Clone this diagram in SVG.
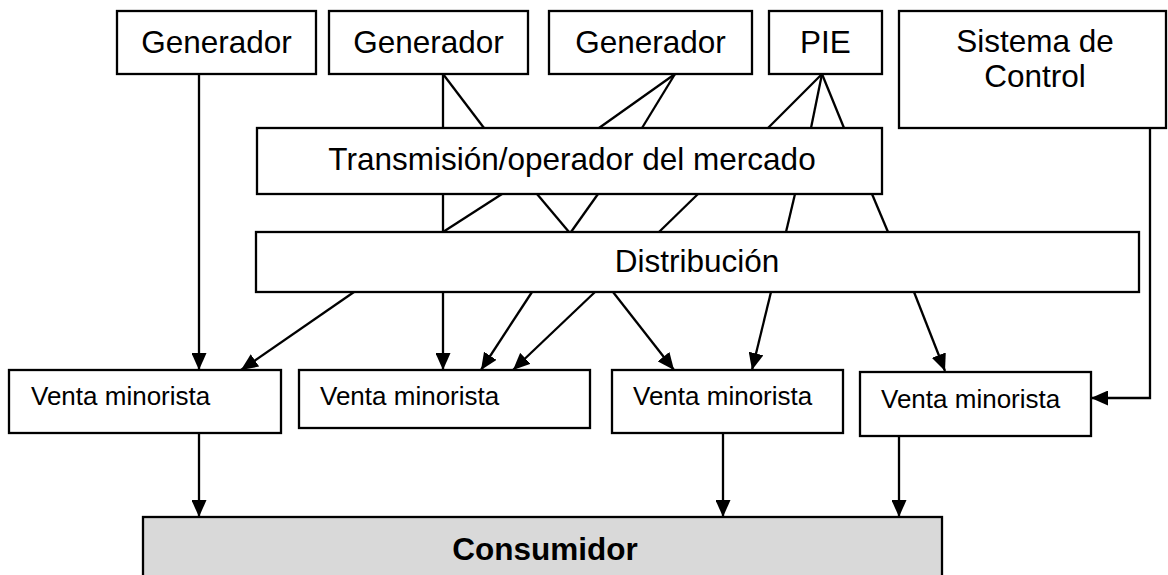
<svg xmlns="http://www.w3.org/2000/svg" width="1168" height="575" viewBox="0 0 1168 575">
<style>
.box{fill:#ffffff;stroke:#000000;stroke-width:2.3}
.cons{fill:#d9d9d9;stroke:#000000;stroke-width:2.3}
.t{font-family:"Liberation Sans",Arial,sans-serif;font-size:31.5px;fill:#000000}
.m{text-anchor:middle}
.s{font-family:"Liberation Sans",Arial,sans-serif;font-size:26px;fill:#000000}
.b{font-weight:bold}
.ln{stroke:#000000;stroke-width:2.3;fill:none}
.ar{stroke:#000000;stroke-width:2.3;fill:none;marker-end:url(#ah)}
</style>
<defs>
<marker id="ah" markerUnits="userSpaceOnUse" markerWidth="18" markerHeight="15" refX="17" refY="7.5" orient="auto">
<path d="M0,0 L17,7.5 L0,15 z" fill="#000000"/>
</marker>
</defs>
<rect width="1168" height="575" fill="#ffffff"/>
<g id="gen1"><rect class="box" x="117" y="11" width="199" height="63"/><text class="t m" x="216.5" y="53">Generador</text></g>
<g id="gen2"><rect class="box" x="329" y="11" width="199" height="63"/><text class="t m" x="428.5" y="53">Generador</text></g>
<g id="gen3"><rect class="box" x="549" y="11" width="203" height="63"/><text class="t m" x="650.5" y="53">Generador</text></g>
<g id="pie"><rect class="box" x="769" y="11" width="113" height="63"/><text class="t m" x="825.5" y="53">PIE</text></g>
<g id="sistema"><rect class="box" x="899" y="11" width="267" height="117"/><text class="t m" x="1035" y="52">Sistema de</text><text class="t m" x="1035" y="87">Control</text></g>
<g id="transmision"><rect class="box" x="257" y="128" width="625" height="66"/><text class="t m" x="572" y="170">Transmisión/operador del mercado</text></g>
<g id="distribucion"><rect class="box" x="256" y="232" width="883" height="60"/><text class="t m" x="697" y="272">Distribución</text></g>
<g id="venta1"><rect class="box" x="9" y="370" width="272" height="63"/><text class="s" x="31" y="405">Venta minorista</text></g>
<g id="venta2"><rect class="box" x="299" y="370" width="291" height="58"/><text class="s" x="320" y="405">Venta minorista</text></g>
<g id="venta3"><rect class="box" x="612" y="370" width="231" height="63"/><text class="s" x="633" y="405">Venta minorista</text></g>
<g id="venta4"><rect class="box" x="860" y="372" width="231" height="64"/><text class="s" x="881" y="408">Venta minorista</text></g>
<g id="consumidor"><rect class="cons" x="143" y="517" width="799" height="70"/><text class="t m b" x="545" y="560">Consumidor</text></g>
<g id="connectors">
<line class="ln" x1="443" y1="74" x2="443" y2="128"/>
<line class="ln" x1="443" y1="74" x2="484" y2="128"/>
<line class="ln" x1="675" y1="74" x2="599" y2="128"/>
<line class="ln" x1="675" y1="74" x2="642" y2="128"/>
<line class="ln" x1="822" y1="74" x2="768" y2="128"/>
<line class="ln" x1="822" y1="74" x2="811" y2="128"/>
<line class="ln" x1="822" y1="74" x2="844" y2="128"/>
<line class="ln" x1="443" y1="194" x2="443" y2="232"/>
<line class="ln" x1="502" y1="194" x2="443" y2="232"/>
<line class="ln" x1="537" y1="194" x2="569" y2="232"/>
<line class="ln" x1="598" y1="194" x2="571" y2="232"/>
<line class="ln" x1="698" y1="194" x2="659" y2="232"/>
<line class="ln" x1="795" y1="194" x2="786" y2="232"/>
<line class="ln" x1="872" y1="194" x2="888" y2="232"/>
<line class="ar" x1="199" y1="74" x2="199" y2="370"/>
<line class="ar" x1="354" y1="292" x2="241" y2="370"/>
<line class="ar" x1="443" y1="292" x2="443" y2="370"/>
<line class="ar" x1="532" y1="292" x2="481" y2="370"/>
<line class="ar" x1="595" y1="292" x2="513" y2="370"/>
<line class="ar" x1="613" y1="292" x2="674" y2="370"/>
<line class="ar" x1="771" y1="292" x2="752" y2="370"/>
<line class="ar" x1="914" y1="292" x2="945" y2="371"/>
<polyline class="ar" points="1150,128 1150,398 1091,398"/>
<line class="ar" x1="199" y1="433" x2="199" y2="517"/>
<line class="ar" x1="723" y1="433" x2="723" y2="517"/>
<line class="ar" x1="899" y1="436" x2="899" y2="517"/>
</g>
</svg>
